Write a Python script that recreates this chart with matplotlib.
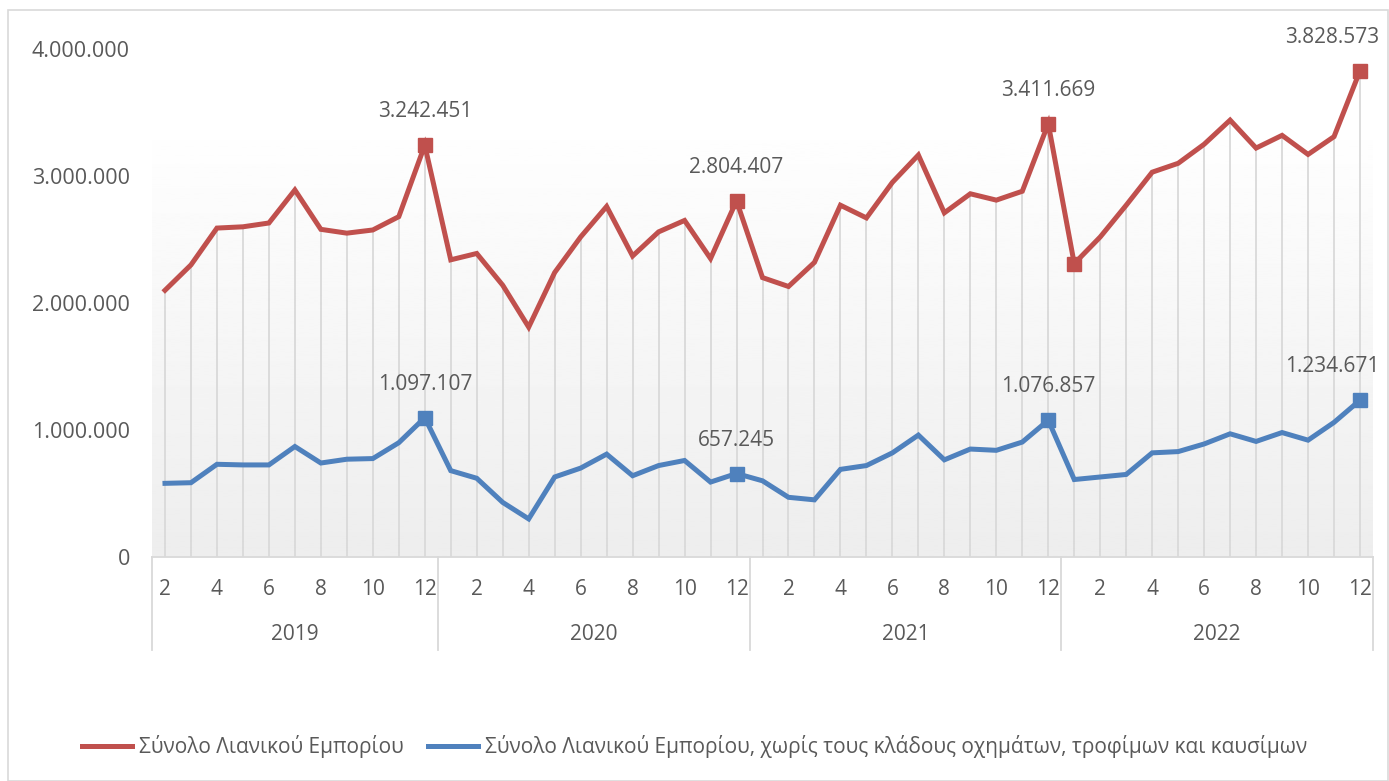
#!/usr/bin/env python3

import numpy as np
import matplotlib
matplotlib.use("Agg")
import matplotlib.pyplot as plt
from matplotlib.patches import Rectangle

# monthly values, Feb 2019 .. Dec 2022
years = ["2019", "2020", "2021", "2022"]
months_per_year = [list(range(2, 13)), list(range(1, 13)), list(range(1, 13)), list(range(1, 13))]

total = [
    2100000, 2300000, 2590000, 2600000, 2630000, 2890000, 2580000, 2550000, 2575000, 2680000, 3242451,
    2340000, 2390000, 2140000, 1810000, 2240000, 2520000, 2760000, 2370000, 2560000, 2650000, 2350000, 2804407,
    2200000, 2130000, 2320000, 2770000, 2670000, 2950000, 3165000, 2710000, 2860000, 2810000, 2880000, 3411669,
    2310000, 2520000, 2770000, 3030000, 3100000, 3250000, 3440000, 3220000, 3320000, 3170000, 3310000, 3828573,
]
core = [
    580000, 585000, 730000, 725000, 725000, 870000, 740000, 770000, 775000, 900000, 1097107,
    680000, 620000, 430000, 300000, 630000, 700000, 810000, 640000, 720000, 760000, 590000, 657245,
    600000, 470000, 450000, 690000, 720000, 820000, 960000, 765000, 850000, 840000, 905000, 1076857,
    610000, 630000, 650000, 820000, 830000, 890000, 970000, 910000, 980000, 920000, 1060000, 1234671,
]

red_marks = [10, 22, 34, 35, 46]
red_labels = [10, 22, 34, 46]
blue_marks = [10, 22, 34, 46]

names = ["Σύνολο Λιανικού Εμπορίου",
         "Σύνολο Λιανικού Εμπορίου, χωρίς τους κλάδους οχημάτων, τροφίμων και καυσίμων"]

RED = "#C0504D"
BLUE = "#4F81BD"
TXT = "#595959"
GRID = "#d9d9d9"


def fmt(v):
    return f"{v:,.0f}".replace(",", ".")


plt.rcParams["font.family"] = ["Open Sans", "DejaVu Sans"]
plt.rcParams["font.size"] = 15

fig = plt.figure(figsize=(13.89, 7.81), dpi=100)
fig.patches.append(Rectangle((8 / 1389, 0), 1380 / 1389, 771 / 781, transform=fig.transFigure,
                             fill=False, edgecolor=GRID, lw=1.2))
ax = fig.add_axes([152 / 1389, 1 - 557 / 781, 1221 / 1389, 508 / 781])

n = len(total)
x = np.arange(n)
ax.set_xlim(-0.5, n - 0.5)
ax.set_ylim(0, 4000000)

# gradient background of plot area
grad = np.linspace(0.93, 1.0, 256).reshape(-1, 1)
ax.imshow(grad, cmap="gray", vmin=0, vmax=1, aspect="auto", origin="lower",
          extent=(-0.5, n - 0.5, 0, 3480000), zorder=0)

# drop lines
ax.vlines(x, 0, total, color=GRID, lw=1.3, zorder=1)

ax.plot(x, total, color=RED, lw=3.6, zorder=3, solid_joinstyle="miter", label=names[0])
ax.plot(x, core, color=BLUE, lw=3.6, zorder=3, solid_joinstyle="miter", label=names[1])
ax.plot(x[red_marks], np.array(total)[red_marks], "s", color=RED, ms=10, zorder=4)
ax.plot(x[blue_marks], np.array(core)[blue_marks], "s", color=BLUE, ms=10, zorder=4)


def label(i, v):
    # the last label is pushed left so it stays inside the chart
    if i == n - 1:
        ax.annotate(fmt(v), (x[i], v), xytext=(14, 24), textcoords="offset points",
                    ha="right", va="center", color=TXT, fontsize=15)
    else:
        ax.annotate(fmt(v), (x[i], v), xytext=(0, 24), textcoords="offset points",
                    ha="center", va="center", color=TXT, fontsize=15)


for i in red_labels:
    label(i, total[i])
for i in blue_marks:
    label(i, core[i])

# y axis
ax.set_yticks(range(0, 4000001, 1000000))
ax.set_yticklabels([fmt(v) for v in range(0, 4000001, 1000000)])
ax.tick_params(axis="y", length=0, pad=16, colors=TXT, labelsize=15.5)
for s in ["top", "right", "left"]:
    ax.spines[s].set_visible(False)
ax.spines["bottom"].set_color(GRID)
ax.spines["bottom"].set_linewidth(1.3)

# multi-level category axis
ax.set_xticks([])
tr = ax.get_xaxis_transform()
pos = 0
bounds = [-0.5]
for yr, ms in zip(years, months_per_year):
    for j, m in enumerate(ms):
        if m % 2 == 0:
            ax.text(pos + j, -0.063, str(m), transform=tr, ha="center", va="center",
                    color=TXT, fontsize=15)
    ax.text(pos + (len(ms) - 1) / 2, -0.152, yr, transform=tr, ha="center", va="center",
            color=TXT, fontsize=15)
    pos += len(ms)
    bounds.append(pos - 0.5)
for b in bounds:
    ax.plot([b, b], [0, -0.183], transform=tr, color=GRID, lw=1.3, clip_on=False)

fig.legend(loc="center", bbox_to_anchor=(0.5, 1 - 747 / 781), ncol=2, frameon=False,
           fontsize=15, labelcolor=TXT, handlelength=2.4, columnspacing=1.2, handletextpad=0.3)

fig.savefig("out.png", dpi=100)
